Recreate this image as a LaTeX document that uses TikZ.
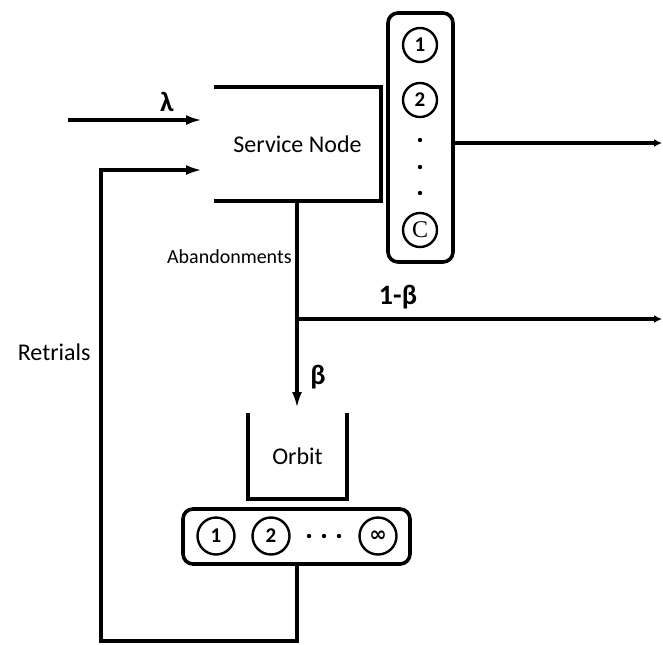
\documentclass[tikz,border=0pt]{standalone}
\usepackage{fontspec}
\setmainfont{Carlito}
\newfontfamily\serifc{Liberation Serif}
\newfontfamily\symbf{DejaVu Sans}
\usetikzlibrary{arrows.meta}

\begin{document}
\begin{tikzpicture}[x=0.5pt, y=-0.5pt,
        flow/.style={line width=2pt},
        paths/.style={flow, -{Latex[length=8pt, width=5pt]}},
        exits/.style={flow, -{Latex[length=4pt, width=4pt]}},
        server/.style={rectangle, rounded corners=5pt, draw, line width=1.8pt, inner sep=0pt},
        unit/.style={circle, draw, line width=1.2pt, inner sep=0pt, minimum size=17pt, font=\bfseries\fontsize{10.5}{12}\selectfont},
        dot/.style={circle, fill, inner sep=0pt, minimum size=2.2pt},
        lbl/.style={inner sep=0pt, font=\fontsize{12}{14}\selectfont},
        rate/.style={inner sep=0pt, font=\bfseries\fontsize{14}{16}\selectfont}
    ]
        \useasboundingbox (0,0) rectangle (663,644);

        % Nodes: service
        \node[lbl, minimum width=83.5pt, minimum height=57pt] (svc) at (297.5,144) {Service Node};
        \node[server, minimum width=32.5pt, minimum height=124.5pt] (srv) at (420.5,137.5) {};
        \node[unit] (s1) at (420,45) {1};
        \node[unit] (s2) at (420,100) {2};
        \foreach \y [count=\i] in {140,167,193} {
            \node[dot] (sd\i) at (420,\y) {};
        }
        \node[unit] (sc) at (420,230) {\serifc\mdseries\fontsize{12}{12}\selectfont C};

        % Nodes: orbit
        \node[lbl, minimum width=49.5pt, minimum height=43pt] (orb) at (297.5,456) {Orbit};
        \node[server, minimum width=113.5pt, minimum height=27.5pt] (obox) at (296.5,536.5) {};
        \node[unit, minimum size=18.5pt] (o1) at (216,536) {1};
        \node[unit, minimum size=18.5pt] (o2) at (271,536) {2};
        \foreach \x [count=\i] in {309,324,339} {
            \node[dot] (od\i) at (\x,536) {};
        }
        \node[unit, minimum size=18.5pt] (oinf) at (378,536) {\symbf\bfseries ∞};

        % Open sides
        \draw[flow] (svc.north west) -- (svc.north east) -- (svc.south east) -- (svc.south west);
        \draw[flow] (orb.north west) -- (orb.south west) -- (orb.south east) -- (orb.north east);

        % Coordinates
        \coordinate (lin) at (68,120);
        \coordinate (lend) at (202,120);
        \coordinate (rtip) at (202,170);
        \coordinate (rcorner) at (101,641);
        \coordinate (split) at (297,319);
        \coordinate (btip) at (297,408);
        \coordinate (out1) at (662,143);
        \coordinate (out2) at (662,319);

        % Paths: arrivals and retrials
        \draw[paths] (lin) -- (lend);
        \draw[paths] (obox.south) |- (rcorner) |- (rtip);

        % Paths: departures and abandonments
        \draw[exits] (srv.east |- out1) -- (out1);
        \draw[paths] (svc.south -| split) -- (btip);
        \draw[exits] (split) -- (out2);

        % Labels
        \node[rate] (lam) at (167,102) {λ};
        \node[rate] (beta) at (318,377) {β};
        \node[rate] (nbeta) at (398,297) {1-β};
        \node[lbl, anchor=east] (retr) at (91,352) {Retrials};
        \node[inner sep=0pt, anchor=east, font=\fontsize{10}{12}\selectfont] (aband) at (292,257) {Abandonments};
\end{tikzpicture}
\end{document}
